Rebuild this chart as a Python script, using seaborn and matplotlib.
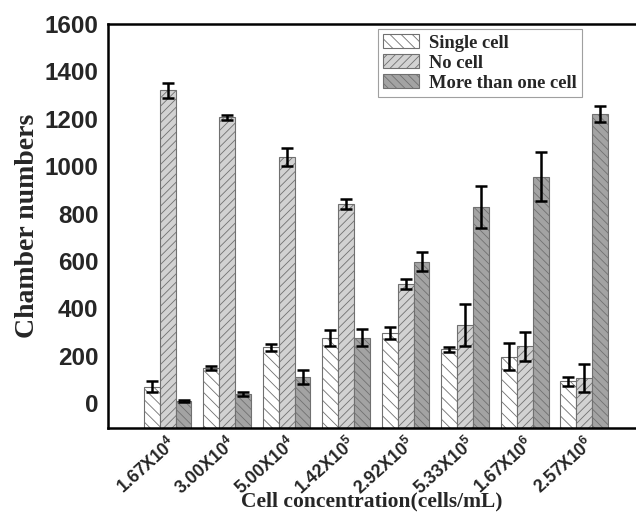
import pandas as pd
import seaborn as sns
import matplotlib.pyplot as plt
from matplotlib.patches import Patch

# values
concentrations = ["1.67X10$^{4}$", "3.00X10$^{4}$", "5.00X10$^{4}$", "1.42X10$^{5}$",
                  "2.92X10$^{5}$", "5.33X10$^{5}$", "1.67X10$^{6}$", "2.57X10$^{6}$"]
chamber_types = ["Single cell", "No cell", "More than one cell"]
single_cell = [70, 148, 236, 275, 297, 228, 195, 92]
single_err = [22, 10, 15, 35, 25, 10, 57, 20]
no_cell = [1321, 1206, 1039, 840, 502, 330, 240, 105]
no_cell_err = [32, 12, 37, 20, 20, 90, 60, 60]
more_cell = [8, 38, 111, 276, 596, 828, 955, 1220]
more_cell_err = [5, 8, 30, 35, 40, 90, 103, 33]

colors = ["#ffffff", "#d2d2d2", "#a3a3a3"]
hatches = ["\\\\\\", "////", "\\\\\\\\"]

sns.set_style("white")
plt.rcParams["hatch.linewidth"] = 0.6
plt.rcParams["mathtext.fontset"] = "custom"
plt.rcParams["mathtext.rm"] = "Liberation Sans:bold"
plt.rcParams["mathtext.default"] = "rm"

df = pd.DataFrame({
    "Concentration": concentrations * 3,
    "Type": [t for t in chamber_types for _ in concentrations],
    "Count": single_cell + no_cell + more_cell,
})
errors = [single_err, no_cell_err, more_cell_err]

fig = plt.figure(figsize=(6.36, 5.12), dpi=100)
ax = fig.add_axes([0.170, 0.164, 0.830, 0.789])

ybot = -105
sns.barplot(data=df, x="Concentration", y="Count", hue="Type", hue_order=chamber_types,
            palette=colors, edgecolor="#707070", linewidth=0.8, legend=False, ax=ax)

# bars rise from the bottom of the axes, not from zero; add hatches and error bars
bar_containers = list(ax.containers)
for i, cont in enumerate(bar_containers):
    xs, tops = [], []
    for p in cont.patches:
        top = p.get_y() + p.get_height()
        p.set_y(ybot)
        p.set_height(top - ybot)
        p.set_hatch(hatches[i])
        xs.append(p.get_x() + p.get_width() / 2)
        tops.append(top)
    ax.errorbar(xs, tops, yerr=errors[i], fmt="none", ecolor="black",
                elinewidth=1.8, capsize=4, capthick=1.8, zorder=5)

ax.set_ylim(ybot, 1600)
ax.set_xlim(-1, 7.87)
ax.set_yticks(range(0, 1601, 200))
ax.tick_params(length=0)
ax.tick_params(axis="y", pad=7)
ax.tick_params(axis="x", pad=4)
for lab in ax.get_yticklabels():
    lab.set_fontfamily("Liberation Sans")
    lab.set_fontweight("bold")
    lab.set_fontsize(17.5)
plt.setp(ax.get_xticklabels(), rotation=42, ha="right", rotation_mode="anchor",
         fontfamily="Liberation Sans", fontweight="bold", fontsize=12.8)

ax.set_xlabel("Cell concentration(cells/mL)", fontfamily="Liberation Serif",
              fontweight="bold", fontsize=15.5, labelpad=-5)
ax.set_ylabel("Chamber numbers", fontfamily="Liberation Serif",
              fontweight="bold", fontsize=20, labelpad=3)

for side in ["left", "bottom", "top"]:
    ax.spines[side].set_linewidth(1.8)
    ax.spines[side].set_color("black")
ax.spines["right"].set_visible(False)

handles = [Patch(facecolor=c, edgecolor="#707070", hatch=h, linewidth=0.8)
           for c, h in zip(colors, hatches)]
leg = ax.legend(handles, chamber_types, loc="upper left", bbox_to_anchor=(0.511, 0.988),
                borderaxespad=0,
                prop={"family": "Liberation Serif", "weight": "bold", "size": 13.3},
                frameon=True, fancybox=False, edgecolor="#888888", handlelength=1.9,
                handleheight=0.75, labelspacing=0.15, borderpad=0.3, handletextpad=0.55)
leg.get_frame().set_linewidth(0.8)

fig.savefig("out.png", dpi=100)
